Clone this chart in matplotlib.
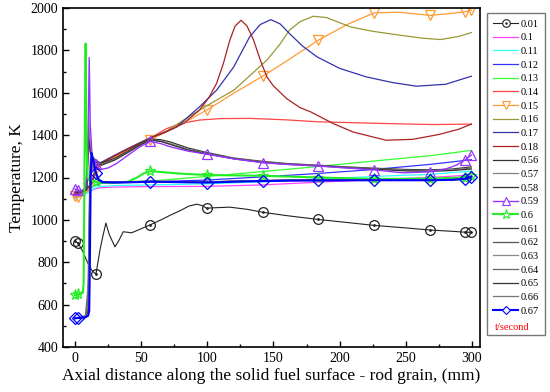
import matplotlib
matplotlib.use("Agg")
import matplotlib.pyplot as plt
from matplotlib.lines import Line2D
from matplotlib.legend_handler import HandlerTuple
from matplotlib.ticker import MultipleLocator

plt.rcParams['font.family'] = 'Liberation Serif'

# stations where the symbols are drawn, mm
MX = [0, 2.5, 15.9, 57, 99.5, 141.8, 183.8, 226, 268.5, 294.5, 299.5]

# t = 0.01 s
x_001 = [0, 2.5, 6, 10, 13, 15.9, 18.9, 21, 23.4, 26, 30.2, 33, 36.5, 42.8, 50, 57,
         65, 72, 80, 86, 92, 96, 99.5, 105, 117, 130, 141.8, 160, 183.8, 205, 226,
         250, 268.5, 285, 294.5, 299.5]
T_001 = [901, 889, 850, 792, 760, 744, 857, 920, 985, 930, 873, 900, 944, 939, 958, 977,
         1000, 1022, 1045, 1065, 1074, 1068, 1055, 1057, 1060, 1050, 1036, 1020, 1002, 988, 974,
         962, 952, 946, 942, 941]

# early times, lower bundle
x_low = [0, 2.5, 6, 10, 13, 15.9, 20, 30, 57, 99.5, 141.8, 183.8, 226, 268.5, 299.5]
T_010 = [1105, 1108, 1118, 1130, 1140, 1148, 1152, 1155, 1157, 1158, 1165, 1178, 1190, 1200, 1212]
T_011 = [1100, 1104, 1116, 1130, 1143, 1153, 1158, 1162, 1165, 1170, 1180, 1193, 1205, 1215, 1230]
T_012 = [1115, 1118, 1126, 1140, 1155, 1165, 1172, 1176, 1180, 1188, 1203, 1219, 1238, 1262, 1284]
T_013 = [1110, 1113, 1122, 1138, 1155, 1168, 1176, 1179, 1183, 1205, 1228, 1252, 1278, 1303, 1328]

# early times, upper bundle
x_014 = [0, 2.5, 6, 10, 13, 15.9, 20, 30, 40, 50, 57, 69, 80, 94, 110, 132, 160, 183, 233, 270, 299.5]
T_014 = [1120, 1122, 1132, 1150, 1172, 1250, 1268, 1300, 1332, 1362, 1386, 1430, 1455, 1471, 1478,
         1479, 1472, 1463, 1455, 1450, 1452]

x_015 = [0, 2.5, 6, 10, 13, 15.9, 20, 30, 40, 50, 57, 80, 99.5, 120, 141.8, 160, 183.8, 205, 226,
         245, 268.5, 285, 294.5, 299.5]
T_015 = [1112, 1108, 1120, 1140, 1165, 1240, 1262, 1295, 1325, 1355, 1378, 1450, 1518, 1598, 1678,
         1750, 1848, 1920, 1977, 1980, 1965, 1975, 1982, 1990]

x_016 = [0, 2.5, 6, 10, 13, 15.9, 20, 30, 40, 50, 57, 70, 82, 100, 120, 132, 145, 155, 162, 170,
         180, 190, 208, 225, 245, 262, 276, 290, 299.5]
T_016 = [1125, 1127, 1136, 1152, 1176, 1252, 1270, 1302, 1334, 1364, 1386, 1422, 1471, 1540, 1612,
         1680, 1754, 1830, 1895, 1935, 1961, 1955, 1911, 1890, 1872, 1858, 1851, 1866, 1884]

x_017 = [0, 2.5, 6, 10, 13, 15.9, 20, 30, 40, 50, 57, 66, 77, 94, 107, 120, 132, 140, 148, 155,
         162, 172, 183, 200, 220, 240, 258, 280, 299.5]
T_017 = [1128, 1130, 1138, 1155, 1178, 1255, 1272, 1305, 1337, 1367, 1388, 1408, 1439, 1533, 1612,
         1722, 1864, 1922, 1945, 1925, 1880, 1820, 1769, 1715, 1675, 1648, 1631, 1640, 1678]

x_018 = [0, 2.5, 6, 10, 13, 15.9, 20, 30, 40, 50, 57, 69, 82, 94, 101, 107, 112, 117, 121, 125.5,
         130, 135, 140, 145, 150, 160, 170, 178, 195, 210, 235, 255, 275, 290, 299.5]
T_018 = [1122, 1124, 1134, 1152, 1174, 1250, 1268, 1302, 1335, 1365, 1387, 1416, 1455, 1518, 1575,
         1644, 1735, 1848, 1915, 1942, 1915, 1848, 1755, 1675, 1632, 1572, 1530, 1510, 1455, 1415,
         1376, 1380, 1403, 1428, 1452]

# late times, upper group
x_mid = [0, 2.5, 6, 9, 10.3, 11.5, 13, 15.9, 20, 30, 40, 50, 57, 65, 72, 85, 99.5, 120, 141.8,
         160, 183.8, 205, 226, 250, 268.5, 285, 299.5]
T_056 = [1132, 1134, 1136, 1148, 1420, 1340, 1300, 1280, 1268, 1290, 1325, 1362, 1382, 1378, 1368,
         1340, 1318, 1292, 1276, 1266, 1258, 1250, 1244, 1238, 1236, 1240, 1250]
T_057 = [1130, 1132, 1135, 1145, 1480, 1360, 1295, 1275, 1262, 1285, 1320, 1358, 1378, 1372, 1360,
         1334, 1314, 1290, 1273, 1264, 1256, 1248, 1241, 1234, 1232, 1236, 1245]
T_058 = [1128, 1130, 1134, 1142, 1380, 1320, 1290, 1272, 1258, 1282, 1318, 1356, 1376, 1370, 1356,
         1330, 1312, 1288, 1271, 1262, 1255, 1246, 1239, 1231, 1229, 1233, 1240]

x_059 = [0, 2.5, 5, 8, 9.8, 10.8, 11.6, 13, 15.9, 19, 25, 31.5, 40, 49, 57, 65, 72, 85, 99.5, 120,
         141.8, 160, 183.8, 205, 226, 248, 268.5, 280, 288, 294.5, 299.5]
T_059 = [1145, 1140, 1138, 1150, 1300, 1766, 1450, 1300, 1263, 1237, 1245, 1266, 1305, 1345, 1370,
         1360, 1345, 1325, 1310, 1288, 1270, 1262, 1254, 1245, 1236, 1222, 1227, 1240, 1258, 1282, 1306]

x_060 = [0, 2.5, 6, 6.6, 7.3, 8.1, 8.8, 9.6, 11, 15.9, 20, 30, 40, 47, 52, 57, 65, 80, 99.5, 120,
         141.8, 183.8, 226, 268.5, 294.5, 299.5]
T_060 = [645, 648, 660, 700, 1300, 1832, 1350, 1200, 1185, 1180, 1175, 1175, 1180, 1200, 1220, 1230,
         1226, 1218, 1212, 1210, 1208, 1200, 1193, 1195, 1200, 1206]

# late times, lower group
x_late = [0, 2.5, 5, 8, 10, 10.8, 11.3, 11.9, 12.6, 13.5, 15.9, 18, 21, 30, 40, 57, 80, 99.5, 120,
          141.8, 160, 183.8, 226, 268.5, 285, 294.5, 299.5]
T_061 = [538, 539, 540, 545, 600, 900, 1150, 1290, 1300, 1270, 1215, 1188, 1180, 1178, 1179, 1182,
         1180, 1179, 1182, 1185, 1187, 1188, 1189, 1189, 1190, 1194, 1203]
T_062 = [536, 538, 539, 543, 580, 850, 1100, 1270, 1295, 1265, 1212, 1186, 1178, 1177, 1178, 1181,
         1179, 1178, 1181, 1184, 1186, 1187, 1188, 1188, 1190, 1193, 1202]
T_063 = [537, 538, 540, 550, 700, 1050, 1220, 1300, 1285, 1260, 1210, 1185, 1179, 1178, 1180, 1183,
         1181, 1180, 1183, 1186, 1188, 1189, 1190, 1190, 1191, 1195, 1204]
T_064 = [536, 537, 539, 546, 650, 980, 1180, 1295, 1290, 1262, 1213, 1187, 1180, 1178, 1179, 1182,
         1180, 1179, 1182, 1185, 1187, 1188, 1189, 1189, 1190, 1194, 1203]
T_065 = [535, 537, 538, 542, 570, 760, 1050, 1250, 1305, 1280, 1218, 1189, 1179, 1177, 1178, 1181,
         1179, 1177, 1181, 1184, 1186, 1187, 1188, 1188, 1189, 1193, 1203]
T_066 = [536, 537, 539, 544, 600, 880, 1130, 1285, 1298, 1268, 1214, 1187, 1179, 1177, 1178, 1181,
         1179, 1178, 1182, 1185, 1187, 1188, 1189, 1189, 1190, 1194, 1203]
T_067 = [535, 537, 538, 540, 548, 570, 800, 1200, 1315, 1290, 1222, 1190, 1178, 1176, 1177, 1180,
         1178, 1176, 1180, 1183, 1185, 1186, 1187, 1187, 1189, 1193, 1204]

SERIES = [
    ('0.01', x_001, T_001), ('0.1', x_low, T_010), ('0.11', x_low, T_011),
    ('0.12', x_low, T_012), ('0.13', x_low, T_013), ('0.14', x_014, T_014),
    ('0.15', x_015, T_015), ('0.16', x_016, T_016), ('0.17', x_017, T_017),
    ('0.18', x_018, T_018), ('0.56', x_mid, T_056), ('0.57', x_mid, T_057),
    ('0.58', x_mid, T_058), ('0.59', x_059, T_059), ('0.6', x_060, T_060),
    ('0.61', x_late, T_061), ('0.62', x_late, T_062), ('0.63', x_late, T_063),
    ('0.64', x_late, T_064), ('0.65', x_late, T_065), ('0.66', x_late, T_066),
    ('0.67', x_late, T_067),
]

STYLE = {
    '0.01': dict(color='#222222', lw=0.8, marker='o', ms=7),
    '0.1': dict(color='#FF44FF', lw=0.9),
    '0.11': dict(color='#33FFFF', lw=0.9),
    '0.12': dict(color='#3333FF', lw=0.9),
    '0.13': dict(color='#33FF33', lw=0.9),
    '0.14': dict(color='#FF4444', lw=0.9),
    '0.15': dict(color='#FF9933', lw=0.9, marker='v', ms=7),
    '0.16': dict(color='#999933', lw=0.9),
    '0.17': dict(color='#3333AA', lw=0.9),
    '0.18': dict(color='#AA2222', lw=0.9),
    '0.56': dict(color='#333333', lw=0.9),
    '0.57': dict(color='#808080', lw=0.9),
    '0.58': dict(color='#333333', lw=0.9),
    '0.59': dict(color='#9933FF', lw=1.0, marker='^', ms=7),
    '0.6': dict(color='#22EE22', lw=1.5, marker='*', ms=8),
    '0.61': dict(color='#333333', lw=0.9),
    '0.62': dict(color='#555555', lw=0.9),
    '0.63': dict(color='#888888', lw=0.9),
    '0.64': dict(color='#666666', lw=0.9),
    '0.65': dict(color='#333333', lw=0.9),
    '0.66': dict(color='#777777', lw=0.9),
    '0.67': dict(color='#0000FF', lw=1.5, marker='D', ms=6),
}

fig = plt.figure(figsize=(5.5, 3.92), dpi=100)
ax = fig.add_axes([63 / 550, 45 / 392, 417 / 550, 339 / 392])

handles = []
for label, xs, ys in SERIES:
    st = STYLE[label]
    mk = st.get('marker')
    if mk:
        idx = [xs.index(m) for m in MX]
        ax.plot(xs, ys, color=st['color'], lw=st['lw'], marker=mk, markevery=idx,
                ms=st['ms'], mfc='none', mec=st['color'], mew=0.9)
        h = Line2D([], [], color=st['color'], lw=st['lw'], marker=mk, ms=st['ms'] - 1.5,
                   mfc='white', mec=st['color'], mew=0.8)
        if label == '0.01':
            ax.plot([xs[i] for i in idx], [ys[i] for i in idx], ls='none',
                    marker='.', ms=2, color=st['color'])
            dot = Line2D([], [], ls='none', marker='.', ms=1.5, color=st['color'])
            h = (h, dot)
    else:
        ax.plot(xs, ys, color=st['color'], lw=st['lw'])
        h = Line2D([], [], color=st['color'], lw=st['lw'])
    handles.append(h)

labels = [s[0] for s in SERIES]
handles.append(Line2D([], [], ls='none'))
labels.append(' ')

ax.set_xlim(-9, 306)
ax.set_ylim(400, 2000)
ax.xaxis.set_major_locator(MultipleLocator(50))
ax.xaxis.set_minor_locator(MultipleLocator(25))
ax.yaxis.set_major_locator(MultipleLocator(200))
ax.yaxis.set_minor_locator(MultipleLocator(100))
ax.tick_params(which='both', direction='in', labelsize=10, top=False, right=False)
ax.tick_params(which='major', length=4, width=1)
ax.tick_params(which='minor', length=2.5, width=1)
for sp in ax.spines.values():
    sp.set_linewidth(1.2)
ax.set_xlabel('Axial distance along the solid fuel surface - rod grain, (mm)', fontsize=12.5, labelpad=2)
ax.set_ylabel('Temperature, K', fontsize=12.5, labelpad=4)

leg = fig.legend(handles, labels, loc='upper left', bbox_to_anchor=(487 / 550, 1 - 13 / 392),
                 fontsize=7.5, frameon=True, fancybox=False, edgecolor='#555555',
                 handlelength=2.4, handletextpad=0.2, labelspacing=0.42, borderpad=0.6,
                 borderaxespad=0, handler_map={tuple: HandlerTuple(ndivide=1)})
leg.get_frame().set_linewidth(1.0)
fig.text(495 / 550, 1 - 328 / 392, 't/second', color='red', fontsize=7.5, va='center', ha='left',
         zorder=10)

fig.savefig('out.png', dpi=100)
